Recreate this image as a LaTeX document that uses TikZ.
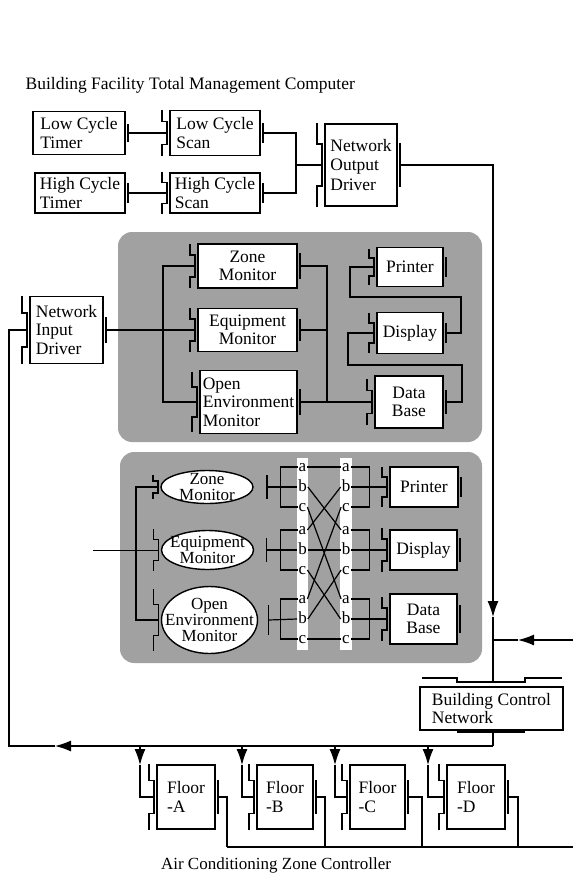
\documentclass[tikz,border=0pt]{standalone}
\usepackage{fontspec}
\setmainfont{Liberation Serif}
\usepackage{tikz}
\usetikzlibrary{calc, arrows.meta, shapes.geometric}

\tikzset{
  unit/.style={draw, line width=1.4pt, fill=white, inner sep=0pt, outer xsep=3pt, outer ysep=0pt, font=\fontsize{17.5}{18.5}\selectfont},
  oval/.style={ellipse, draw, line width=1.4pt, fill=white, inner sep=0pt, outer xsep=3pt, outer ysep=0pt},
  ovaltext/.style={align=center, inner sep=0pt, font=\fontsize{17}{16}\selectfont},
  abc/.style={inner sep=0.5pt, text height=8.5pt, text depth=0pt, font=\fontsize{17}{17}\selectfont},
  panel/.style={fill=black!37, rounded corners=14pt},
  plugbar/.style={line width=1.3pt},
  plugfat/.style={line width=2.8pt},
  arr/.style={-{Latex[length=16pt,width=11pt]}}
}

% socket on the west side of a node: #1 node, #2 half height
\newcommand{\sock}[2]{\draw ($(#1.west)+(-5,-#2)$) -- ++(0,#2/2) -- ++(5,0) -- ++(0,#2) -- ++(-5,0) -- ++(0,#2/2);}
% plug bar at a point: #2 point, #3 half height
\newcommand{\plug}[3][plugbar]{\draw[#1] ($(#2)+(0,-#3)$) -- ($(#2)+(0,#3)$);}

\begin{document}
\begin{tikzpicture}[x=1pt, y=-1pt, line width=1.2pt]
  \useasboundingbox (0,0) rectangle (573,875);

  \node[anchor=west, inner sep=0pt, font=\fontsize{17.5}{18}\selectfont] (title) at (25,85) {Building Facility Total Management Computer};

  % scan part
  \node[unit, align=left, minimum width=92, minimum height=43] (lct) at (79,133) {Low Cycle\\Timer};
  \node[unit, align=left, minimum width=90, minimum height=45] (lcs) at (215,133) {Low Cycle\\Scan};
  \node[unit, align=left, minimum width=90, minimum height=40] (hct) at (80,193) {High Cycle\\Timer};
  \node[unit, align=left, minimum width=90, minimum height=40] (hcs) at (215,193) {High Cycle\\Scan};
  \node[unit, align=left, minimum width=72, minimum height=82, font=\fontsize{17.5}{19.5}\selectfont] (nod) at (361,165) {Network\\Output\\Driver};

  \sock{lcs}{23} \sock{hcs}{21} \sock{nod}{42}
  \plug{lct.east}{9} \plug{hct.east}{10} \plug{lcs.east}{10} \plug{hcs.east}{10}
  \plug[plugfat]{nod.east}{22}

  \coordinate (j1) at (296,165);
  \draw (lct.east) -- (lcs.west);
  \draw (hct.east) -- (hcs.west);
  \draw (lcs.east) -| (j1) |- (hcs.east);
  \draw (j1) -- (nod.west);

  % panels
  \fill[panel] (118,232) rectangle (482,442);
  \fill[panel] (120,452) rectangle (482,663);

  % upper panel
  \node[unit, align=left, minimum width=73, minimum height=67] (nid) at (66.5,330) {Network\\Input\\Driver};
  \node[unit, align=center, minimum width=99, minimum height=44] (zm1) at (247.5,266) {Zone\\Monitor};
  \node[unit, align=center, minimum width=99, minimum height=43] (em1) at (247.5,330) {Equipment\\Monitor};
  \node[unit, align=left, minimum width=97, minimum height=63] (oem1) at (248.5,402) {Open\\Environment\\Monitor};
  \node[unit, minimum width=66, minimum height=39] (pr1) at (410,267) {Printer};
  \node[unit, minimum width=66, minimum height=41] (dp1) at (410,333) {Display};
  \node[unit, align=center, minimum width=68, minimum height=52] (db1) at (409,402) {Data\\Base};

  \sock{nid}{34} \sock{zm1}{22} \sock{em1}{22} \sock{oem1}{30}
  \sock{pr1}{18} \sock{dp1}{20} \sock{db1}{23}
  \plug{nid.east}{13} \plug{zm1.east}{13} \plug{em1.east}{11} \plug{oem1.east}{13}
  \plug{pr1.east}{10} \plug[plugfat]{dp1.east}{10} \plug[plugfat]{db1.east}{12}

  \coordinate (b1) at (163,330);
  \coordinate (b2) at (327,330);
  \draw (nid.east) -- (em1.west);
  \draw (zm1.west) -| (b1) |- (oem1.west);
  \draw (em1.east) -- (b2);
  \draw (zm1.east) -| (b2) |- (db1.west);
  \draw (oem1.east) -- (db1.west);
  \draw (dp1.east) -- ++(15,0) |- (350,297) |- (pr1.west);
  \draw (db1.east) -- ++(16,0) |- (348,365) |- (dp1.west);

  % lower panel
  \node[oval, minimum width=92, minimum height=33] (zm2) at (207,487) {};
  \node[ovaltext] (zm2t) at (zm2) {Zone\\Monitor};
  \node[oval, minimum width=92, minimum height=39] (em2) at (207.5,550) {};
  \node[ovaltext] (em2t) at (em2) {Equipment\\Monitor};
  \node[oval, minimum width=96, minimum height=67] (oem2) at (209.5,620) {};
  \node[ovaltext] (oem2t) at (oem2) {Open\\Environment\\Monitor};
  \node[unit, minimum width=68, minimum height=40] (pr2) at (424,487) {Printer};
  \node[unit, minimum width=67, minimum height=40] (dp2) at (423.5,550) {Display};
  \node[unit, align=center, minimum width=67, minimum height=50] (db2) at (423.5,619) {Data\\Base};

  \sock{zm2}{12} \sock{em2}{21} \sock{oem2}{31}
  \sock{pr2}{20} \sock{dp2}{22} \sock{db2}{22}
  \plug{pr2.east}{10} \plug{dp2.east}{12} \plug{db2.east}{14}

  \fill[white] (297,458) rectangle (308,650);
  \fill[white] (340,458) rectangle (352,650);
  \foreach \m/\y in {1/487,2/550,3/619}
    \foreach \k/\d in {a/-20,b/0,c/20} {
      \node[abc] (l\m\k) at (302.5,\y+\d) {\k};
      \node[abc] (r\m\k) at (346,\y+\d) {\k};
    }

  \coordinate (zm2o) at ($(zm2.east)+(11,0)$);
  \coordinate (em2o) at ($(em2.east)+(10,0)$);
  \coordinate (oem2o) at ($(oem2.east)+(8,0)$);
  \plug{zm2o}{12} \plug{em2o}{12} \plug{oem2o}{15}
  \draw (zm2o) -- (l1b.west);
  \draw (em2o) -- (l2b.west);
  \draw (oem2o) -- (l3b.west);
  \foreach \m in {1,2,3}
    \draw (l\m a.west) -- ++(-17,0) |- (l\m c.west);
  \foreach \n/\dev in {1/pr2,2/dp2,3/db2} {
    \draw (r\n a.east) -- ++(19,0) |- (r\n c.east);
    \draw (r\n b.east) -- (\dev.west);
  }
  \foreach \m/\mk in {1/a,2/b,3/c}
    \foreach \k/\n in {a/1,b/2,c/3}
      \draw (l\m\k.east) -- (r\n\mk.west);

  \coordinate (ext1) at (93,550);
  \draw (zm2.west) -- ++(-22,0) |- (oem2.west);
  \draw[line width=0.6pt] (ext1) -- (em2.west);

  % network
  \node[unit, align=left, outer xsep=0pt, minimum width=143, minimum height=43] (bcn) at (491.5,708.5) {Building Control\\Network};
  \draw (422,678) -- (457,678) -- (457,682) -- (525,682) -- (525,678) -- (562,678);
  \draw (457,732) -- (525,732);

  \coordinate (tip1) at (493,617);
  \coordinate (bustop) at (493,682);
  \draw[arr] (nod.east) -| (tip1);
  \draw (tip1) -- (bustop);

  \coordinate (ext2) at (573,640);
  \coordinate (tip2) at (518,640);
  \coordinate (j2) at (493,640);
  \draw[arr] (ext2) -- (tip2);
  \draw (tip2) -- (j2);

  \coordinate (busbot) at (493,732);
  \coordinate (ret) at (493,746);
  \coordinate (tip3) at (55,746);
  \coordinate (lc) at (9,330);
  \draw (busbot) -- (ret);
  \draw[arr] (ret) -- (tip3);
  \draw (tip3) -| (lc) -- (nid.west);

  % floors
  \node[unit, align=left, minimum width=58, minimum height=64] (fa) at (186,797) {Floor\\-A};
  \node[unit, align=left, minimum width=56, minimum height=64] (fb) at (285,797) {Floor\\-B};
  \node[unit, align=left, minimum width=55, minimum height=64] (fc) at (377.5,797) {Floor\\-C};
  \node[unit, align=left, minimum width=58, minimum height=64] (fd) at (476,797) {Floor\\-D};

  \foreach \f/\x in {fa/140,fb/242,fc/335,fd/428} {
    \sock{\f}{33}
    \plug[plugfat]{\f.east}{17}
    \draw[arr] (\x,746) -- (\x,765);
    \draw (\x,765) |- (\f.west);
  }
  \foreach \f/\x in {fa/227,fb/325,fc/422,fd/518}
    \draw (\f.east) -| (\x,847);
  \coordinate (bus1) at (227,847);
  \coordinate (bus2) at (573,847);
  \draw (bus1) -- (bus2);

  \node[font=\fontsize{17}{18}\selectfont] (acz) at (276,865) {Air Conditioning Zone Controller};
\end{tikzpicture}
\end{document}
